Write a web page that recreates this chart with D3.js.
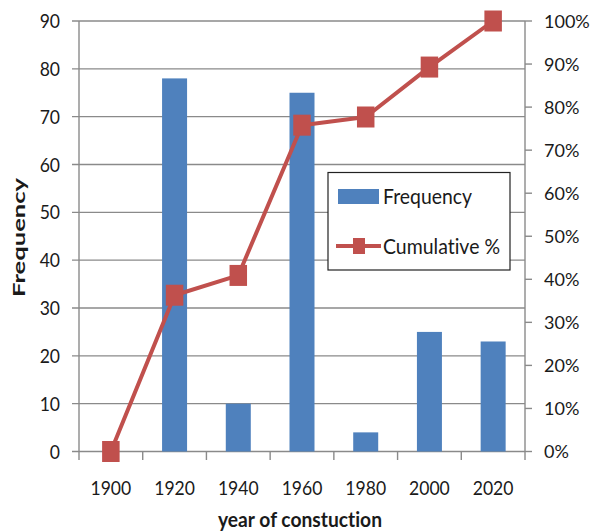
<!DOCTYPE html>
<html>
<head>
<meta charset="utf-8">
<script src="https://cdn.jsdelivr.net/npm/d3@7"></script>
<style>
  html, body { margin: 0; padding: 0; background: #fff; }
  svg { display: block; }
  text { font-family: Lato, "Open Sans", sans-serif; fill: #1a1a1a; font-variant-ligatures: none; }
</style>
</head>
<body>
<script>
// Construction years (x categories)
const years = ["1900", "1920", "1940", "1960", "1980", "2000", "2020"];
// Number of buildings per period
const frequency = [0, 78, 10, 75, 4, 25, 23];
// Running share of all buildings, in percent
const cumulativePct = [0, 36.3, 40.9, 75.8, 77.7, 89.3, 100];
// Axis ticks
const freqTicks = [0, 10, 20, 30, 40, 50, 60, 70, 80, 90];
const pctTicks = [0, 10, 20, 30, 40, 50, 60, 70, 80, 90, 100];

const W = 592, H = 532;
const plotL = 79, plotR = 525, plotT = 21, plotB = 451.5;
const barColor = "#4F81BD", lineColor = "#C0504D", gridColor = "#8a8a8a";
const tickFont = 19.5;

const svg = d3.select("body").append("svg").attr("width", W).attr("height", H);

const x = d3.scaleBand().domain(years).range([plotL, plotR]).padding(0);
const yL = d3.scaleLinear().domain([0, 90]).range([plotB, plotT]);
const yR = d3.scaleLinear().domain([0, 100]).range([plotB, plotT]);

// Narrow the tick labels a little so the glyphs read condensed
function condense(sel, k) {
  sel.each(function () {
    const w = this.getComputedTextLength();
    d3.select(this).attr("textLength", w * k).attr("lengthAdjust", "spacingAndGlyphs");
  });
}

// Horizontal gridlines (also serve as left-axis ticks)
svg.append("g").selectAll("line").data(freqTicks).join("line")
  .attr("x1", plotL - 7).attr("x2", plotR)
  .attr("y1", d => yL(d)).attr("y2", d => yL(d))
  .attr("stroke", gridColor).attr("stroke-width", 1.4);

// Left axis line and labels
svg.append("line").attr("x1", plotL).attr("x2", plotL).attr("y1", plotT).attr("y2", plotB)
  .attr("stroke", gridColor).attr("stroke-width", 1.4);
svg.append("g").selectAll("text").data(freqTicks).join("text")
  .attr("x", 60).attr("y", d => yL(d) + 7)
  .attr("text-anchor", "end").attr("font-size", tickFont)
  .text(d => d)
  .call(condense, 0.9);

// Right axis line, ticks and labels
svg.append("line").attr("x1", plotR).attr("x2", plotR).attr("y1", plotT).attr("y2", plotB)
  .attr("stroke", gridColor).attr("stroke-width", 1.4);
svg.append("g").selectAll("line").data(pctTicks).join("line")
  .attr("x1", plotR).attr("x2", plotR + 7)
  .attr("y1", d => yR(d)).attr("y2", d => yR(d))
  .attr("stroke", gridColor).attr("stroke-width", 1.4);
svg.append("g").selectAll("text").data(pctTicks).join("text")
  .attr("x", 544).attr("y", d => yR(d) + 6.6)
  .attr("font-size", 18)
  .text(d => d + "%");

// Bottom axis ticks at category boundaries
const bounds = years.map(y => x(y)).concat([plotR]);
svg.append("g").selectAll("line").data(bounds).join("line")
  .attr("x1", d => d).attr("x2", d => d)
  .attr("y1", plotB).attr("y2", plotB + 8.5)
  .attr("stroke", gridColor).attr("stroke-width", 1.4);
svg.append("g").selectAll("text").data(years).join("text")
  .attr("x", d => x(d) + x.bandwidth() / 2).attr("y", 495)
  .attr("text-anchor", "middle").attr("font-size", tickFont)
  .text(d => d)
  .call(condense, 0.9);

// Frequency bars
const barW = 25;
svg.append("g").selectAll("rect").data(years.map((y, i) => ({ y, v: frequency[i] })))
  .join("rect")
  .attr("x", d => x(d.y) + x.bandwidth() / 2 - barW / 2)
  .attr("width", barW)
  .attr("y", d => yL(d.v))
  .attr("height", d => plotB - yL(d.v))
  .attr("fill", barColor);

// Cumulative % line with square markers
const pts = years.map((y, i) => ({ y, v: cumulativePct[i] }));
svg.append("path").datum(pts)
  .attr("fill", "none").attr("stroke", lineColor).attr("stroke-width", 4)
  .attr("stroke-linejoin", "round")
  .attr("d", d3.line().x(d => x(d.y) + x.bandwidth() / 2).y(d => yR(d.v)));
const mw = 17.5, mh = 21;
svg.append("g").selectAll("rect").data(pts).join("rect")
  .attr("x", d => x(d.y) + x.bandwidth() / 2 - mw / 2)
  .attr("y", d => yR(d.v) - mh / 2)
  .attr("width", mw).attr("height", mh)
  .attr("fill", lineColor);

// Legend
const lg = svg.append("g");
lg.append("rect").attr("x", 328).attr("y", 172.5).attr("width", 182).attr("height", 97.5)
  .attr("fill", "#fff").attr("stroke", "#222").attr("stroke-width", 1.2);
lg.append("rect").attr("x", 338).attr("y", 189).attr("width", 41).attr("height", 15)
  .attr("fill", barColor);
lg.append("text").attr("x", 383).attr("y", 203.5).attr("font-size", 20.5)
  .attr("textLength", 89).attr("lengthAdjust", "spacingAndGlyphs").text("Frequency");
lg.append("line").attr("x1", 336).attr("x2", 381).attr("y1", 246).attr("y2", 246)
  .attr("stroke", lineColor).attr("stroke-width", 4);
lg.append("rect").attr("x", 353).attr("y", 238).attr("width", 12).attr("height", 16)
  .attr("fill", lineColor);
lg.append("text").attr("x", 383).attr("y", 253.5).attr("font-size", 20.5)
  .attr("textLength", 117).attr("lengthAdjust", "spacingAndGlyphs").text("Cumulative %");

// Axis titles
svg.append("text").attr("x", 300).attr("y", 526.5)
  .attr("text-anchor", "middle").attr("font-size", 21).attr("font-weight", "bold")
  .attr("textLength", 164).attr("lengthAdjust", "spacingAndGlyphs")
  .text("year of constuction");
svg.append("text").attr("transform", "translate(25,237.5) rotate(-90)")
  .attr("text-anchor", "middle").attr("font-size", 17).attr("font-weight", "bold")
  .attr("textLength", 119).attr("lengthAdjust", "spacingAndGlyphs")
  .text("Frequency");
</script>
</body>
</html>
